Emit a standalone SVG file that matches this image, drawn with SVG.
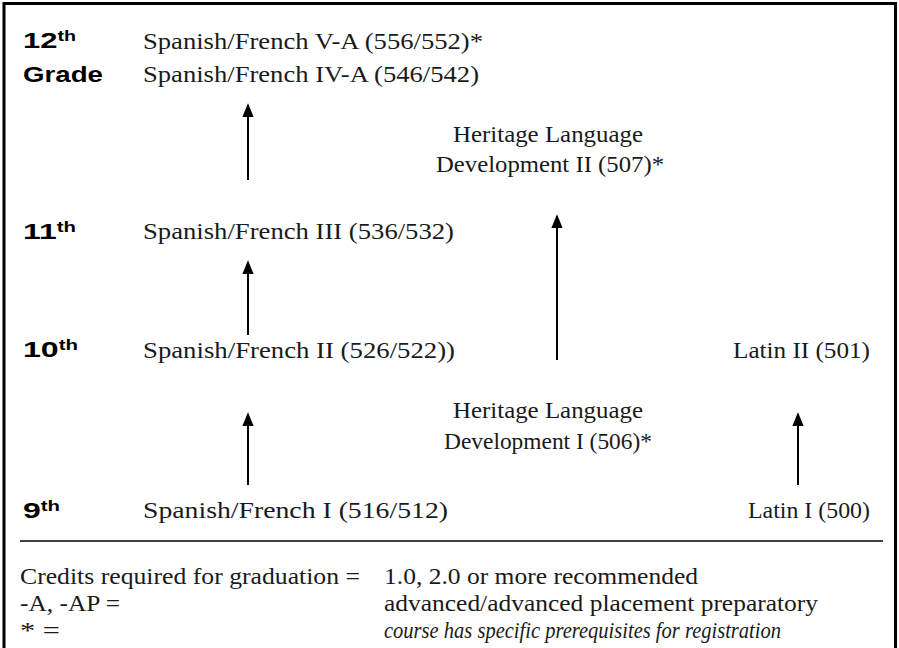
<svg xmlns="http://www.w3.org/2000/svg" width="899" height="648" viewBox="0 0 899 648">
<style>
.c{font-family:"Liberation Serif","Times New Roman",serif;font-size:24px;fill:#1a1a1a}
.g{font-family:"Liberation Sans",Arial,sans-serif;font-weight:bold;font-size:22px;fill:#000}
.sup{font-size:14px}
.i{font-style:italic}
.a{stroke:#000;stroke-width:2;fill:none;marker-end:url(#ah)}
</style>
<defs>
<marker id="ah" markerWidth="14" markerHeight="17" refX="15" refY="7" orient="auto" markerUnits="userSpaceOnUse" viewBox="0 0 17 14">
<path d="M0,0 L17,7 L0,14 Z" fill="#000"/>
</marker>
</defs>
<rect width="899" height="648" fill="#fff"/>
<path d="M4,660 V3.5 H895.5 V660" fill="none" stroke="#000" stroke-width="3"/>
<g id="grades">
<text class="g" x="23" y="48" textLength="53" lengthAdjust="spacingAndGlyphs">12<tspan class="sup" dy="-7">th</tspan></text>
<text class="g" x="23" y="82" textLength="80" lengthAdjust="spacingAndGlyphs">Grade</text>
<text class="g" x="23" y="239" textLength="53" lengthAdjust="spacingAndGlyphs">11<tspan class="sup" dy="-7">th</tspan></text>
<text class="g" x="23" y="357" textLength="55" lengthAdjust="spacingAndGlyphs">10<tspan class="sup" dy="-7">th</tspan></text>
<text class="g" x="23" y="518" textLength="37" lengthAdjust="spacingAndGlyphs">9<tspan class="sup" dy="-7">th</tspan></text>
</g>
<g id="sf5"><text class="c" x="143" y="49" textLength="340" lengthAdjust="spacingAndGlyphs">Spanish/French V-A (556/552)*</text></g>
<g id="sf4"><text class="c" x="143" y="82" textLength="336" lengthAdjust="spacingAndGlyphs">Spanish/French IV-A (546/542)</text></g>
<g id="hl2"><text class="c" x="453" y="142" textLength="190" lengthAdjust="spacingAndGlyphs">Heritage Language</text><text class="c" x="436" y="172" textLength="228" lengthAdjust="spacingAndGlyphs">Development II (507)*</text></g>
<g id="sf3"><text class="c" x="143" y="239" textLength="311" lengthAdjust="spacingAndGlyphs">Spanish/French III (536/532)</text></g>
<g id="sf2"><text class="c" x="143" y="358" textLength="312" lengthAdjust="spacingAndGlyphs">Spanish/French II (526/522))</text></g>
<g id="lat2"><text class="c" x="733" y="358" textLength="137" lengthAdjust="spacingAndGlyphs">Latin II (501)</text></g>
<g id="hl1"><text class="c" x="453" y="418" textLength="190" lengthAdjust="spacingAndGlyphs">Heritage Language</text><text class="c" x="444" y="449" textLength="208" lengthAdjust="spacingAndGlyphs">Development I (506)*</text></g>
<g id="sf1"><text class="c" x="143" y="518" textLength="305" lengthAdjust="spacingAndGlyphs">Spanish/French I (516/512)</text></g>
<g id="lat1"><text class="c" x="748" y="518" textLength="122" lengthAdjust="spacingAndGlyphs">Latin I (500)</text></g>
<g id="connectors">
<line class="a" x1="248" y1="180" x2="248" y2="105"/>
<line class="a" x1="248" y1="335" x2="248" y2="262"/>
<line class="a" x1="557" y1="360" x2="557" y2="216"/>
<line class="a" x1="248" y1="485" x2="248" y2="414"/>
<line class="a" x1="798" y1="485" x2="798" y2="414"/>
</g>
<line x1="20" y1="541" x2="883" y2="541" stroke="#000" stroke-width="1.3"/>
<g id="legend">
<text class="c" x="20" y="584" textLength="340" lengthAdjust="spacingAndGlyphs">Credits required for graduation =</text>
<text class="c" x="384" y="584" textLength="314" lengthAdjust="spacingAndGlyphs">1.0, 2.0 or more recommended</text>
<text class="c" x="20" y="611" textLength="100" lengthAdjust="spacingAndGlyphs">-A, -AP =</text>
<text class="c" x="384" y="611" textLength="434" lengthAdjust="spacingAndGlyphs">advanced/advanced placement preparatory</text>
<text class="c" x="20" y="638" textLength="40" lengthAdjust="spacingAndGlyphs">*  =</text>
<text class="c i" x="384" y="638" textLength="397" lengthAdjust="spacingAndGlyphs">course has specific prerequisites for registration</text>
</g>
</svg>
